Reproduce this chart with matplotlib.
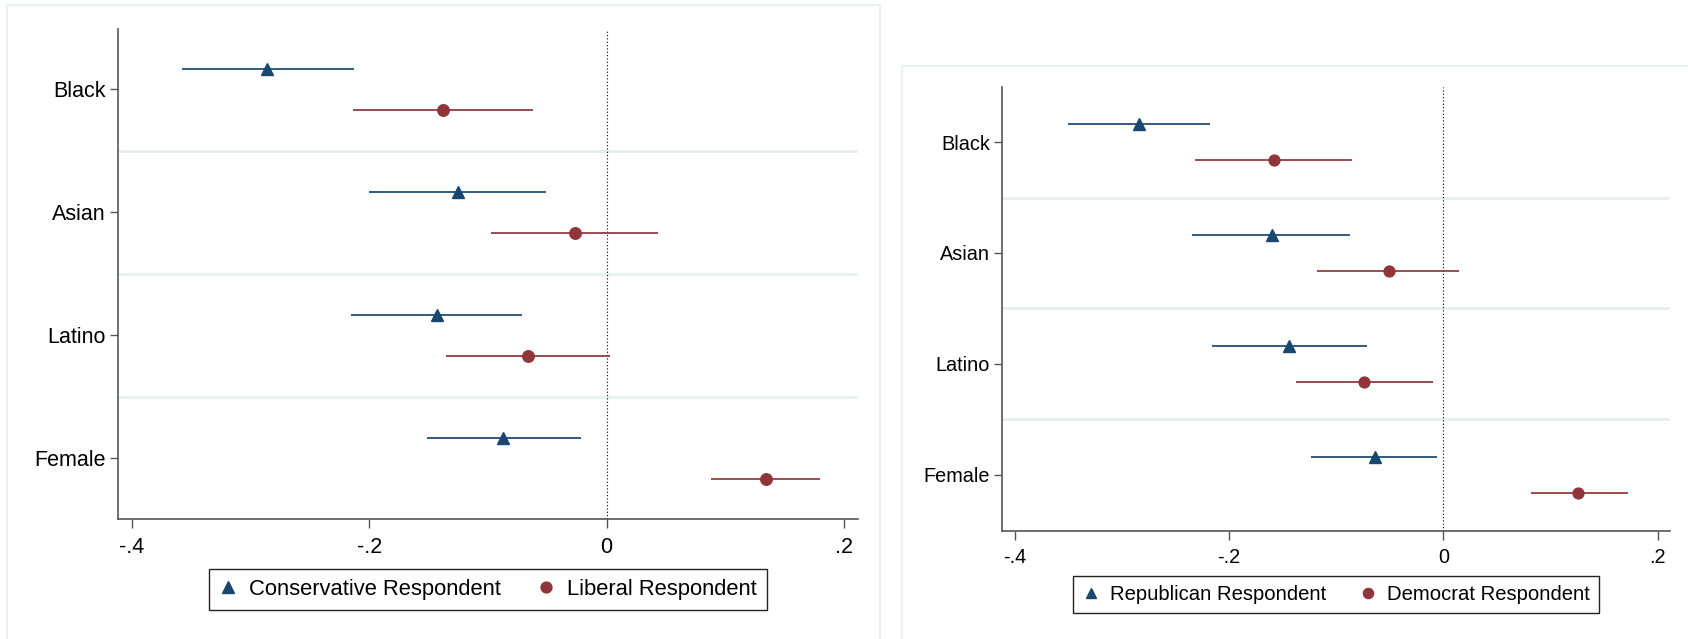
import matplotlib.pyplot as plt
from matplotlib.lines import Line2D
from matplotlib.patches import Rectangle

plt.rcParams['font.family'] = ['Liberation Sans', 'DejaVu Sans']

# row labels (top to bottom)
groups = ['Black', 'Asian', 'Latino', 'Female']
xticks = [-0.4, -0.2, 0.0, 0.2]
xtick_labels = ['-.4', '-.2', '0', '.2']

# left panel: ideology
cons_est = [-0.286, -0.125, -0.143, -0.087]
cons_lo = [-0.358, -0.200, -0.215, -0.151]
cons_hi = [-0.213, -0.051, -0.071, -0.022]
lib_est = [-0.138, -0.027, -0.066, 0.134]
lib_lo = [-0.214, -0.097, -0.135, 0.088]
lib_hi = [-0.062, 0.043, 0.003, 0.180]

# right panel: party
rep_est = [-0.284, -0.160, -0.144, -0.064]
rep_lo = [-0.350, -0.234, -0.216, -0.123]
rep_hi = [-0.218, -0.087, -0.071, -0.006]
dem_est = [-0.158, -0.051, -0.074, 0.126]
dem_lo = [-0.232, -0.118, -0.137, 0.082]
dem_hi = [-0.085, 0.015, -0.010, 0.172]

NAVY = '#1a476f'
MAROON = '#90353b'
SEP = '#e4edef'
FRAME = '#e8f0f1'
SPINE = '#555555'

W, H = 1688, 639
fig = plt.figure(figsize=(W / 100, H / 100), dpi=100)
fig.patch.set_facecolor('white')


def px_axes(x0, y0, x1, y1):
    # pixel box (top-down) -> figure axes
    return fig.add_axes([x0 / W, 1 - y1 / H, (x1 - x0) / W, (y1 - y0) / H])


def coef_panel(ax, est1, lo1, hi1, est2, lo2, hi2, lab1, lab2, fs, ms, xlim, ylim):
    ypos = list(range(1, len(groups) + 1))
    off = 0.165
    for k, y in enumerate(ypos):
        ax.plot([lo1[k], hi1[k]], [y - off, y - off], color=NAVY, lw=1.25, zorder=3, solid_capstyle='butt')
        ax.plot([lo2[k], hi2[k]], [y + off, y + off], color=MAROON, lw=1.25, zorder=3, solid_capstyle='butt')
    ax.plot(est1, [y - off for y in ypos], ls='none', marker='^', ms=ms + 0.5, color=NAVY, zorder=4)
    ax.plot(est2, [y + off for y in ypos], ls='none', marker='o', ms=ms, color=MAROON, zorder=4)

    for y in [1.5, 2.5, 3.5]:
        ax.axhline(y, color=SEP, lw=1.8, zorder=1)
    ax.axvline(0, color='black', lw=0.8, ls=(0, (1, 2)), zorder=2)

    ax.set_xlim(*xlim)
    ax.set_ylim(*ylim)
    ax.set_xticks(xticks)
    ax.set_xticklabels(xtick_labels)
    ax.set_yticks(ypos)
    ax.set_yticklabels(groups)
    for s in ['top', 'right']:
        ax.spines[s].set_visible(False)
    for s in ['left', 'bottom']:
        ax.spines[s].set_color(SPINE)
        ax.spines[s].set_linewidth(1.2)
    ax.tick_params(axis='x', length=6.5, width=1, color=SPINE, labelsize=fs, pad=6)
    ax.tick_params(axis='y', length=5.5, width=1, color=SPINE, labelsize=fs, pad=3)

    handles = [Line2D([], [], ls='none', marker='^', ms=ms, color=NAVY),
               Line2D([], [], ls='none', marker='o', ms=ms - 0.5, color=MAROON)]
    leg = ax.legend(handles, [lab1, lab2], loc='upper center', bbox_to_anchor=(0.5, -0.1014),
                    ncol=2, fontsize=fs + 0.3, frameon=True, fancybox=False, framealpha=1,
                    edgecolor='#222222', handlelength=0.9, handletextpad=0.5,
                    columnspacing=1.6, borderpad=0.45, borderaxespad=0)
    leg.get_frame().set_linewidth(1.0)


# light outer frames around each graph
fig.add_artist(Rectangle((7 / W, -0.1), (880 - 7) / W, 1.1 - 5 / H, transform=fig.transFigure,
                         fill=False, edgecolor=FRAME, lw=1.2, clip_on=False))
fig.add_artist(Rectangle((902 / W, -0.1), 0.6, 1.1 - 66 / H, transform=fig.transFigure,
                         fill=False, edgecolor=FRAME, lw=1.2, clip_on=False))

ax1 = px_axes(117.7, 29, 857.7, 519.3)
coef_panel(ax1, cons_est, cons_lo, cons_hi, lib_est, lib_lo, lib_hi,
           'Conservative Respondent', 'Liberal Respondent', 15.5, 8.3,
           (-0.4118, 0.2114), (4.496, 0.51))

ax2 = px_axes(1001.7, 87.3, 1670, 531)
coef_panel(ax2, rep_est, rep_lo, rep_hi, dem_est, dem_lo, dem_hi,
           'Republican Respondent', 'Democrat Respondent', 14.3, 7.8,
           (-0.412, 0.2115), (4.505, 0.507))

fig.savefig('out.png', dpi=100)
